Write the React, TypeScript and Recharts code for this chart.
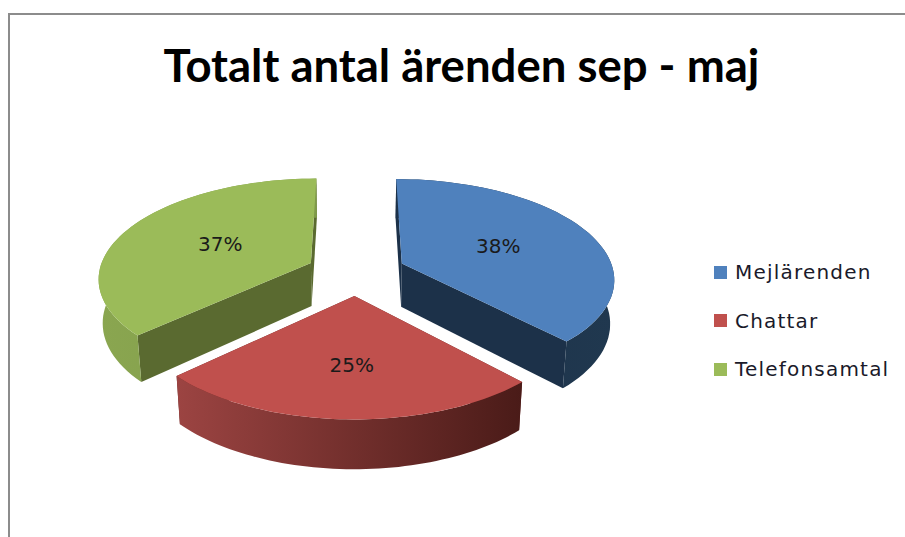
import { PieChart, Pie, Legend } from 'recharts';

const categories = ['Mejlärenden', 'Chattar', 'Telefonsamtal'];
const shares = [38, 25, 37];
const topColors = ['#4f81bd', '#c0504d', '#9bbb59'];
const cutColors = ['#1c3149', '#632523', '#5a6a30'];
const wallFrom = ['#1c3149', '#9c4442', '#8aa650'];
const wallTo = ['#20384f', '#4a1b18', '#7f9a49'];

const chartData = categories.map((name, i) => ({ name, value: shares[i], fill: topColors[i] }));

// look of the 3D pie, in units of the horizontal radius
const EXPLODE = 0.235;
const TILT = 0.465;
const THICK = 0.209;
const PERSP = 0.141;
const SHRINK = 0.016;
const RAD = Math.PI / 180;

const project = (cx: number, cy: number, r: number, X: number, Y: number, Z: number) => {
  const s = 1 / (1 - PERSP * Y + SHRINK * Z);
  return [cx + r * X * s, cy + r * (TILT * Y + THICK * Z) * s];
};

const toPath = (pts: number[][]) =>
  'M' + pts.map((p) => `${p[0].toFixed(1)},${p[1].toFixed(1)}`).join('L') + 'Z';

const Slice3D = (props: any) => {
  const { cx, cy, outerRadius, startAngle, endAngle, index } = props;
  const mid = ((startAngle + endAngle) / 2) * RAD;
  const ox = Math.cos(mid) * EXPLODE;
  const oy = -Math.sin(mid) * EXPLODE;
  const steps = 60;
  const angles = Array.from({ length: steps + 1 }, (_, k) => (startAngle + ((endAngle - startAngle) * k) / steps) * RAD);
  const rim = (z: number) =>
    angles.map((a) => project(cx, cy, outerRadius, ox + Math.cos(a), oy - Math.sin(a), z));
  const apex = (z: number) => project(cx, cy, outerRadius, ox, oy, z);
  const top = rim(0);
  const bottom = rim(1);
  const gradId = `wall-${index}`;
  return (
    <g>
      <defs>
        <linearGradient id={gradId} x1="0" y1="0" x2="1" y2="0">
          <stop offset="0%" stopColor={wallFrom[index]} />
          <stop offset="100%" stopColor={wallTo[index]} />
        </linearGradient>
      </defs>
      <path d={toPath([apex(0), top[0], bottom[0], apex(1)])} fill={cutColors[index]} />
      <path d={toPath([apex(0), top[steps], bottom[steps], apex(1)])} fill={cutColors[index]} />
      <path d={toPath([...top, ...[...bottom].reverse()])} fill={`url(#${gradId})`} />
      <path d={toPath([apex(0), ...top])} fill={topColors[index]} />
    </g>
  );
};

const renderPercent = (props: any) => {
  const { cx, cy, outerRadius, midAngle, percent } = props;
  const a = midAngle * RAD;
  const r = 0.53 - 0.07 * Math.sin(a);
  const [x, y] = project(
    cx,
    cy,
    outerRadius,
    Math.cos(a) * (EXPLODE + r),
    -Math.sin(a) * (EXPLODE + r),
    0,
  );
  return (
    <text x={x + 2} y={y} textAnchor="middle" dominantBaseline="central" fontFamily="DejaVu Sans" fontSize={20} fill="#1a1a1a">
      {`${Math.round(percent * 100)}%`}
    </text>
  );
};

const renderLegend = (props: any) => (
  <div>
    {props.payload.map((entry: any) => (
      <div key={entry.value} style={{ display: 'flex', alignItems: 'center', height: 48.5 }}>
        <span style={{ width: 13, height: 13, background: entry.color, marginRight: 8 }} />
        <span style={{ fontFamily: 'DejaVu Sans', fontSize: 20, letterSpacing: 1.2, color: '#1a1a2a', whiteSpace: 'nowrap' }}>
          {entry.value}
        </span>
      </div>
    ))}
  </div>
);

export default function App() {
  return (
    <div style={{ position: 'absolute', left: 0, top: 0, width: 905, height: 537, overflow: 'hidden', background: '#fff' }}>
      <div style={{ position: 'absolute', left: 8, top: 13, width: 1000, height: 700, border: '2px solid #8c8c8c' }} />
      <div
        style={{
          position: 'absolute',
          left: 0,
          top: 35,
          width: 923,
          textAlign: 'center',
          fontFamily: 'Lato',
          fontWeight: 700,
          fontSize: 45.5,
          lineHeight: '60px',
          color: '#000',
        }}
      >
        Totalt antal ärenden sep - maj
      </div>
      <div style={{ position: 'absolute', left: 0, top: 0 }}>
        <PieChart width={905} height={537} margin={{ top: 0, right: 0, bottom: 0, left: 0 }}>
          <Pie
            data={chartData}
            dataKey="value"
            nameKey="name"
            cx={356}
            cy={272}
            outerRadius={212}
            startAngle={90}
            endAngle={-270}
            stroke="none"
            shape={Slice3D}
            label={renderPercent}
            labelLine={false}
            isAnimationActive={false}
          />
          <Legend
            content={renderLegend}
            itemSorter={null}
            wrapperStyle={{ position: 'absolute', left: 714, top: 248, width: 190, bottom: 'auto' }}
          />
        </PieChart>
      </div>
    </div>
  );
}
